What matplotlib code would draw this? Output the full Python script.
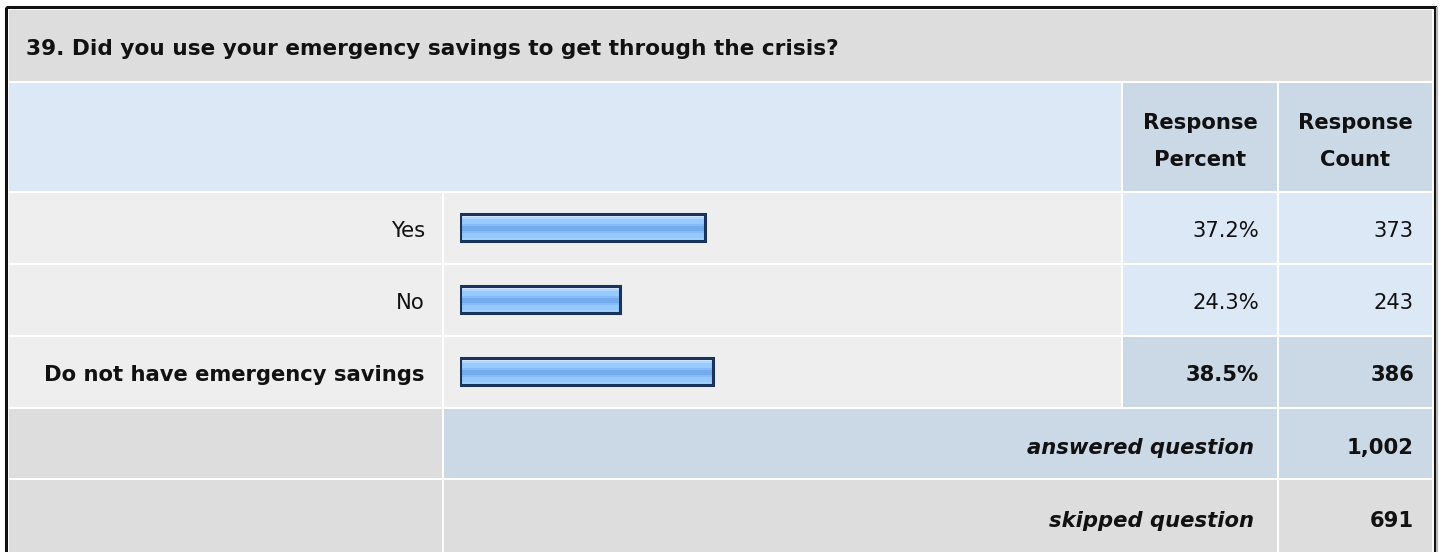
import numpy as np
import matplotlib
matplotlib.use("Agg")
import matplotlib.pyplot as plt
from matplotlib.patches import Rectangle
from matplotlib.colors import to_rgb
import matplotlib.patheffects as pe

question = "39. Did you use your emergency savings to get through the crisis?"
answers = ["Yes", "No", "Do not have emergency savings"]
percents = [37.2, 24.3, 38.5]
counts = [373, 243, 386]
answered = 1002
skipped = 691

plt.rcParams["font.family"] = ["DejaVu Sans"]
FS = 15.2

GREY = "#dddddd"
ROWBG = "#eeeeee"
LBLUE = "#dce8f5"
MBLUE = "#cbd8e6"
NAVY = "#1b345c"
INK = "#111111"

fig = plt.figure(figsize=(14.4, 5.52), dpi=100)
ax = fig.add_axes([0, 0, 1, 1])
ax.set_xlim(0, 1440)
ax.set_ylim(552, 0)
ax.axis("off")


def cell(x0, x1, y0, y1, color):
    ax.add_patch(Rectangle((x0, y0), x1 - x0, y1 - y0, color=color, lw=0, zorder=1))


# column edges (px)
LAB = (9, 442)
BAR = (444, 1121)
PCT = (1123, 1277)
CNT = (1279, 1432)

# title + header rows
cell(9, 1432, 10, 81, GREY)
ax.text(26, 55, question, fontsize=15.6, fontweight="bold", va="baseline", color=INK)
cell(9, 1121, 83, 191, LBLUE)
cell(*PCT, 83, 191, MBLUE)
cell(*CNT, 83, 191, MBLUE)
for x, (l1, l2) in [((PCT[0] + PCT[1]) / 2, ("Response", "Percent")),
                    ((CNT[0] + CNT[1]) / 2, ("Response", "Count"))]:
    ax.text(x, 129, l1, fontsize=FS, fontweight="bold", ha="center", va="baseline", color=INK)
    ax.text(x, 166.5, l2, fontsize=FS, fontweight="bold", ha="center", va="baseline", color=INK)

# answer rows
top = 193
rh = 72
best = int(np.argmax(percents))
for i, (a, p, c) in enumerate(zip(answers, percents, counts)):
    y0 = top + i * rh
    y1 = y0 + rh - 2
    hi = i == best
    cell(*LAB, y0, y1, ROWBG)
    cell(*BAR, y0, y1, ROWBG)
    cell(*PCT, y0, y1, MBLUE if hi else LBLUE)
    cell(*CNT, y0, y1, MBLUE if hi else LBLUE)
    w = "bold" if hi else "normal"
    yb = y0 + 44
    ax.text(425, yb, a, fontsize=FS, fontweight=w, ha="right", va="baseline", color=INK)
    ax.text(1259, yb, f"{p:.1f}%", fontsize=FS, fontweight=w, ha="right", va="baseline", color=INK)
    ax.text(1414, yb, f"{c:,}", fontsize=FS, fontweight=w, ha="right", va="baseline", color=INK)

# answered / skipped rows
ya = top + 3 * rh
cell(*LAB, ya, ya + 69, GREY)
cell(BAR[0], PCT[1], ya, ya + 69, MBLUE)
cell(*CNT, ya, ya + 69, MBLUE)
ax.text(1254, ya + 45, "answered question", fontsize=FS, fontweight="bold", style="italic",
        ha="right", va="baseline", color=INK)
ax.text(1414, ya + 45, f"{answered:,}", fontsize=FS, fontweight="bold", ha="right", va="baseline", color=INK)

ys = ya + 71
cell(*LAB, ys, 560, GREY)
cell(BAR[0], PCT[1], ys, 560, GREY)
cell(*CNT, ys, 560, GREY)
ax.text(1254, ys + 47, "skipped question", fontsize=FS, fontweight="bold", style="italic",
        ha="right", va="baseline", color=INK)
ax.text(1414, ys + 47, f"{skipped:,}", fontsize=FS, fontweight="bold", ha="right", va="baseline", color=INK)

# outer frame
ax.add_patch(Rectangle((5.5, 7), 1429, 560, fill=False, ec="#111111", lw=2.2, zorder=5))
ax.plot([1437, 1437], [8, 552], color="#b8b8b8", lw=1.5, zorder=5)

# bars, in their own axes: 0..100 % over 658 px starting at x=460
bx = fig.add_axes([460 / 1440, 1 - (top + 3 * rh) / 552, 658 / 1440, 3 * rh / 552])
bx.axis("off")
bx.patch.set_alpha(0)
ypos = np.arange(len(answers)) - 0.02
bh = 0.37
bars = bx.barh(ypos, percents, height=bh, color="#94c8ff", lw=0, zorder=2,
               path_effects=[pe.SimplePatchShadow(offset=(1.5, -1.5), shadow_rgbFace="#8e9aab", alpha=0.7),
                             pe.Normal()])
stops = ["#cfe6ff"] * 3 + ["#b0d8ff"] * 2 + ["#98caff"] * 5 + ["#86bcf6"] * 2 + \
        ["#74aaee"] * 4 + ["#86bcf6"] * 2 + ["#94c8ff"] * 5 + ["#a4d0ff"] * 3
grad = np.array([to_rgb(s) for s in stops])[:, None, :]
for b in bars:
    x0, y0, w, h = b.get_x(), b.get_y(), b.get_width(), b.get_height()
    im = bx.imshow(grad, extent=(x0, x0 + w, y0 + h, y0), aspect="auto", zorder=3, interpolation="nearest")
    im.set_clip_path(b)
bx.barh(ypos, percents, height=bh, fill=False, edgecolor=NAVY, lw=2.2, zorder=4)
bx.set_xlim(0, 100)
bx.set_ylim(len(answers) - 0.5, -0.5)

fig.savefig("out.png", dpi=100)
